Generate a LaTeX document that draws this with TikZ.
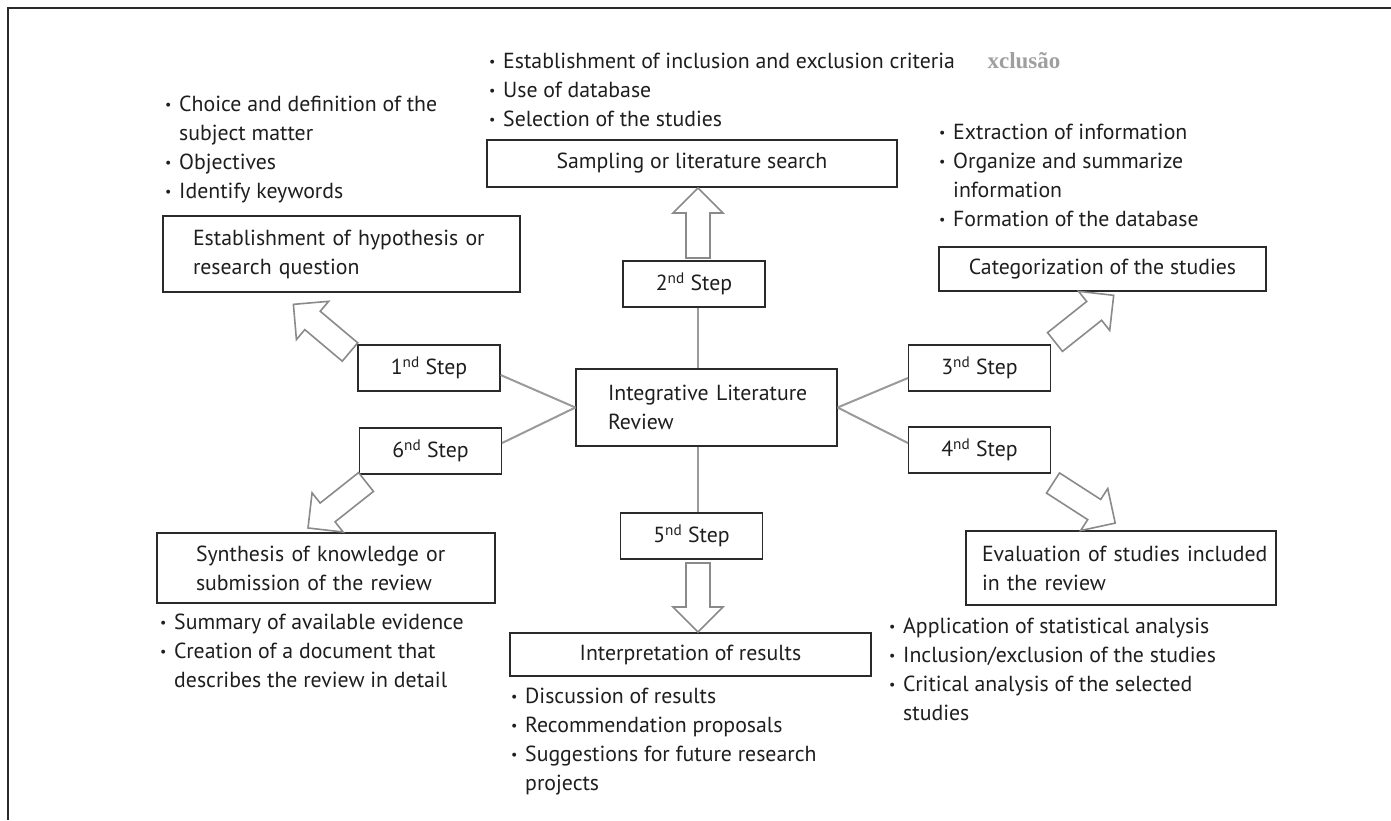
\documentclass[tikz,border=0pt]{standalone}
\usepackage{fontspec}
\setmainfont{PT Sans}
\newfontfamily\artfont{Liberation Serif}
\usetikzlibrary{calc}
\definecolor{txtc}{HTML}{1E1E1E}
\definecolor{boxc}{HTML}{2A2A2A}
\definecolor{connc}{HTML}{9A9A9A}
\definecolor{arrc}{HTML}{8A8A8A}
\newcommand{\fs}{\fontsize{21.8}{29}\selectfont}
\newcommand{\itm}{\makebox[13pt][l]{\hspace*{-1pt}\raisebox{2pt}{\fontsize{14}{14}\selectfont •}}}
\newcommand{\cnt}{\hspace*{13pt}}
\newcommand{\blkarrow}[3]{%
  \draw[blk, shift={(#1)}, rotate=#2] (0,-12) -- ({#3-25},-12) -- ({#3-25},-25) -- (#3,0) -- ({#3-25},25) -- ({#3-25},12) -- (0,12) -- cycle;}
\begin{document}
\begin{tikzpicture}[x=1pt,y=-1pt,
  box/.style={draw=boxc, line width=1.2pt, inner sep=0pt, text=txtc, font=\fs},
  cbox/.style={box, align=center},
  lbox/.style={box, align=left},
  stepbox/.style={cbox, minimum width=142pt, minimum height=46pt},
  list/.style={inner sep=0pt, anchor=north west, align=left, text=txtc, font=\fs},
  conn/.style={draw=connc, line width=2pt},
  blk/.style={draw=arrc, line width=1.6pt, fill=white, line join=miter},
  frame/.style={draw=boxc, line width=1.4pt}]
\useasboundingbox (0,0) rectangle (1391,820);
\draw[frame] (1391,8) -- (8,8) -- (8,820);

% central box
\node[lbox, text width=197pt, inner xsep=32pt, minimum height=77pt] (c) at (706.5,407.5)
  {\mbox{Integrative Literature}\\\mbox{Review}};

% step boxes
\node[stepbox] (s1) at (429,368) {1\textsuperscript{nd} Step};
\node[stepbox] (s2) at (694,284) {2\textsuperscript{nd} Step};
\node[stepbox] (s3) at (979.5,368) {3\textsuperscript{nd} Step};
\node[stepbox] (s4) at (979.5,450) {4\textsuperscript{nd} Step};
\node[stepbox] (s5) at (691.5,536) {5\textsuperscript{nd} Step};
\node[stepbox] (s6) at (430.5,451) {6\textsuperscript{nd} Step};

% target boxes
\node[lbox, text width=297pt, inner xsep=30pt, minimum height=76pt] (hyp) at (341.5,254)
  {\mbox{Establishment of hypothesis or}\\\mbox{research question}};
\node[cbox, minimum width=410pt, minimum height=47pt] (samp) at (692,163.5) {Sampling or literature search};
\node[cbox, minimum width=327pt, minimum height=44pt] (cat) at (1102.5,269) {Categorization of the studies};
\node[lbox, text width=278pt, inner xsep=16pt, minimum height=74pt] (eval) at (1121,568)
  {\mbox{Evaluation of studies included}\\\mbox{in the review}};
\node[cbox, minimum width=361pt, minimum height=43pt] (interp) at (690.5,654.5) {Interpretation of results};
\node[lbox, text width=260pt, inner xsep=39pt, minimum height=70pt] (syn) at (326,568)
  {\mbox{Synthesis of knowledge or}\\\mbox{submission of the review}};

% bullet lists
\node[list] (lhyp) at (166,91) {\strut\itm Choice and definition of the\\\cnt subject matter\\\itm Objectives\\\itm Identify keywords};
\node[list] (lsamp) at (490,48) {\strut\itm Establishment of inclusion and exclusion criteria\\\itm Use of database\\\itm Selection of the studies};
\node[list] (lcat) at (940,119) {\strut\itm Extraction of information\\\itm Organize and summarize\\\cnt information\\\itm Formation of the database};
\node[list] (lsyn) at (161,609) {\strut\itm Summary of available evidence\\\itm Creation of a document that\\\cnt describes the review in detail};
\node[list] (lint) at (512,683) {\strut\itm Discussion of results\\\itm Recommendation proposals\\\itm Suggestions for future research\\\cnt projects};
\node[list] (leval) at (890,613) {\strut\itm Application of statistical analysis\\\itm Inclusion/exclusion of the studies\\\itm Critical analysis of the selected\\\cnt studies};

\node[font=\artfont\bfseries\fontsize{23}{23}\selectfont, text=gray!75, inner sep=0pt] (art) at (1024,61) {xclusão};

% connectors
\coordinate (vx) at (698,0);
\draw[conn] (c.west) -- ($(s1.east)+(0,7)$);
\draw[conn] (c.west) -- ($(s6.east)+(0,-8)$);
\draw[conn] (c.east) -- ($(s3.west)+(0,10)$);
\draw[conn] (c.east) -- ($(s4.west)+(0,-7)$);
\draw[conn] (s2.south -| vx) -- (c.north -| vx);
\draw[conn] (c.south -| vx) -- (s5.north -| vx);

% block arrows
\coordinate (a1) at (350,352);
\coordinate (a2) at (698,258);
\coordinate (a3) at (1055,342);
\coordinate (a4) at (1053,483);
\coordinate (a5) at (698,563);
\coordinate (a6) at (366,482);
\blkarrow{a1}{139.9}{74}
\blkarrow{a2}{90}{70}
\blkarrow{a3}{38.5}{75}
\blkarrow{a4}{-32.8}{74}
\blkarrow{a5}{-90}{69}
\blkarrow{a6}{-141.6}{74}
\end{tikzpicture}
\end{document}
